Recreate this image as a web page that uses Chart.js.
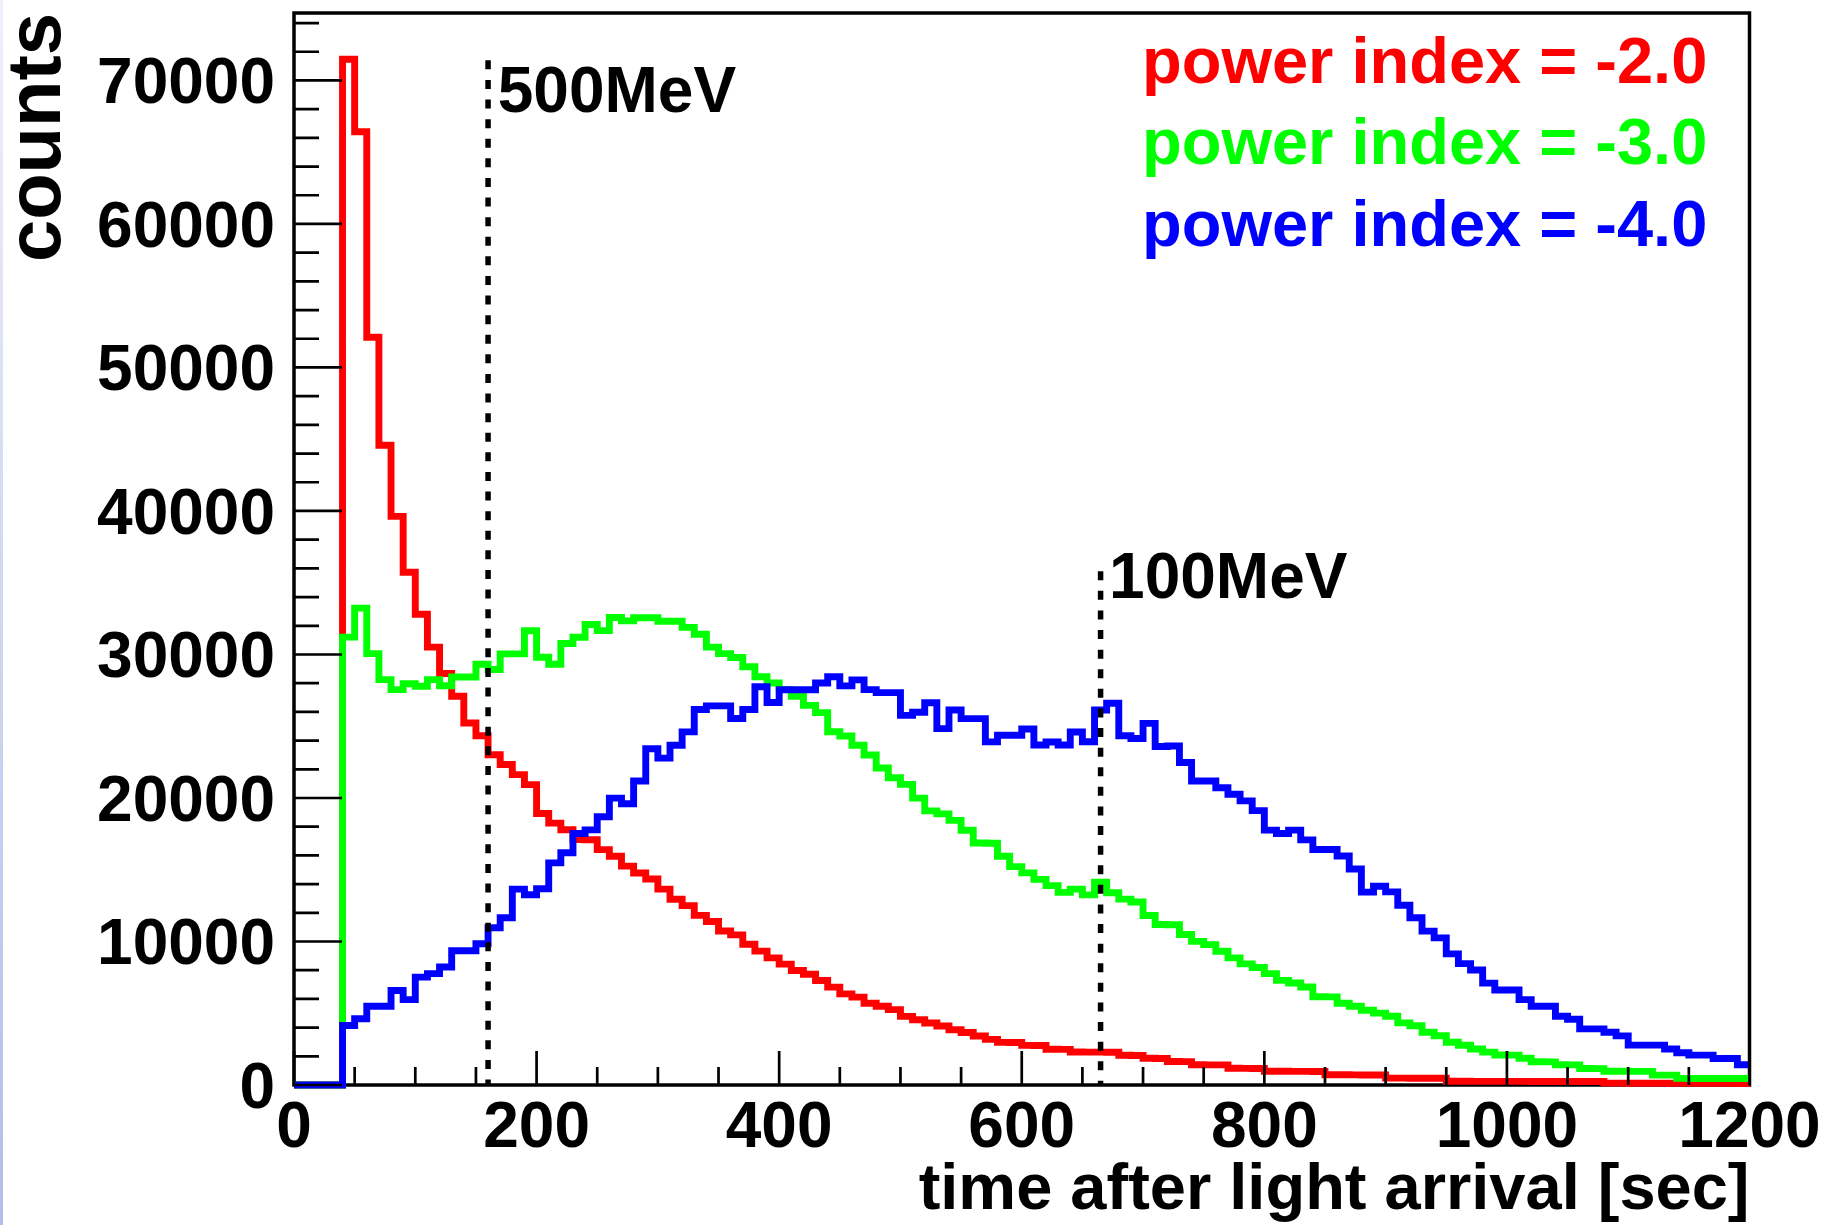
<!DOCTYPE html>
<html>
<head>
<meta charset="utf-8">
<script src="https://cdn.jsdelivr.net/npm/chart.js@4/dist/chart.umd.min.js"></script>
<style>
  html, body { margin: 0; padding: 0; background: #fff; overflow: hidden; }
  #wrap { position: relative; width: 1826px; height: 1225px; }
  #edge { position: absolute; left: 0; top: 0; width: 3px; height: 1225px;
          background: linear-gradient(#eef0fa, #b4bde8); }
  canvas { position: absolute; left: 0; top: 0; }
</style>
</head>
<body>
<div id="wrap"><div id="edge"></div><canvas id="chart" width="1826" height="1225"></canvas></div>
<script>
// ---- histogram binning (seconds after light arrival) ----
const BIN_WIDTH = 10;
const N_BINS = 120;
const timeBinEdges = Array.from({ length: N_BINS + 1 }, (_, i) => i * BIN_WIDTH);

// ---- series ----
const seriesLabels = ['power index = -2.0', 'power index = -3.0', 'power index = -4.0'];

const countsIndex2 = [
  0, 0, 0, 0, 71480, 66430, 52110, 44580, 39620, 35730,
  32800, 30510, 28670, 27090, 25230, 24340, 23010, 22330, 21630, 20930,
  18920, 18250, 17790, 17100, 17090, 16400, 15940, 15250, 14770, 14350,
  13650, 12940, 12500, 11820, 11390, 10730, 10460, 9810, 9330, 8860,
  8420, 7980, 7720, 7280, 6820, 6350, 6120, 5700, 5490, 5250,
  4780, 4550, 4320, 4110, 3850, 3660, 3410, 3180, 2970, 2960,
  2760, 2750, 2490, 2480, 2300, 2290, 2290, 2280, 2070, 2060,
  1860, 1850, 1640, 1630, 1410, 1400, 1400, 1170, 1160, 1150,
  960, 955, 950, 950, 945, 710, 710, 705, 700, 700,
  480, 477, 475, 470, 470, 260, 258, 256, 255, 254,
  252, 250, 248, 246, 245, 244, 242, 240, 130, 128,
  126, 124, 122, 120, 118, 116, 114, 112, 110, 108
];

const countsIndex3 = [
  0, 0, 0, 0, 31210, 33230, 30060, 28250, 27550, 27960,
  27790, 28250, 27820, 28430, 28430, 29320, 28950, 30040, 30040, 31650,
  29810, 29320, 30770, 31200, 32090, 31660, 32580, 32340, 32560, 32560,
  32320, 32320, 31890, 31410, 30510, 30060, 29790, 29140, 28450, 28010,
  27550, 27080, 26450, 25950, 24620, 24320, 23670, 23000, 22090, 21410,
  20950, 19990, 19100, 18890, 18440, 17750, 16860, 16850, 15940, 15220,
  14780, 14330, 13890, 13420, 13650, 13250, 14140, 13400, 12950, 12750,
  11810, 11180, 11170, 10490, 10010, 9780, 9320, 8860, 8440, 8190,
  7760, 7290, 7110, 6830, 6150, 6140, 5700, 5490, 5210, 5010,
  4790, 4330, 4130, 3680, 3430, 2980, 2770, 2510, 2290, 2090,
  2080, 1860, 1620, 1610, 1410, 1400, 1150, 1140, 960, 955,
  950, 950, 690, 685, 460, 457, 455, 452, 450, 448
];

const countsIndex4 = [
  0, 0, 0, 0, 4150, 4620, 5490, 5490, 6590, 5950,
  7520, 7760, 8220, 9350, 9350, 9840, 10960, 11650, 13650, 13260,
  13680, 15480, 16180, 17530, 17780, 18690, 19990, 19600, 21180, 23430,
  22780, 23670, 24610, 26170, 26420, 26420, 25540, 26170, 27750, 26650,
  27540, 27540, 27540, 28010, 28450, 27810, 28230, 27550, 27340, 27340,
  25760, 25970, 26640, 24830, 26130, 25530, 25530, 23910, 24370, 24370,
  24810, 23690, 23900, 23690, 24600, 23920, 26130, 26600, 24340, 24150,
  25200, 23590, 23620, 22470, 21180, 21180, 20710, 20260, 19800, 19120,
  17760, 17530, 17760, 17080, 16410, 16410, 15960, 15050, 13440, 13850,
  13460, 12530, 11650, 10720, 10250, 9140, 8460, 8010, 7100, 6620,
  6620, 5950, 5490, 5490, 4790, 4580, 3910, 3910, 3680, 3420,
  2780, 2780, 2780, 2510, 2250, 2080, 2080, 1850, 1850, 1410
];

const seriesCounts = [countsIndex2, countsIndex3, countsIndex4];

// ---- energy markers ----
const markerLabels = ['500MeV', '100MeV'];
const markerTimes = [160, 665];
const markerTops = [71400, 35800];

// ---- axis ticks ----
const xMajorTicks = [0, 200, 400, 600, 800, 1000, 1200];
const yMajorTicks = [0, 10000, 20000, 30000, 40000, 50000, 60000, 70000];
const X_MINOR_STEP = 50;
const Y_MINOR_STEP = 2000;
const Y_MAX = 74700;

// ---- styling ----
const FONT = "'Liberation Sans', Arial, Helvetica, sans-serif";
const seriesColors = ['#ff0000', '#00ff00', '#0000ff'];
const markerLabelPlacement = [{ x: 168, y: 67820 }, { x: 672, y: 33910 }];

Chart.defaults.font.family = FONT;
Chart.defaults.color = '#000';

function histogramPoints(counts) {
  const pts = counts.map((c, i) => ({ x: timeBinEdges[i], y: c }));
  pts.push({ x: timeBinEdges[counts.length], y: counts[counts.length - 1] });
  return pts;
}

const histDatasets = seriesLabels.map((label, k) => ({
  label,
  data: histogramPoints(seriesCounts[k]),
  borderColor: seriesColors[k],
  borderWidth: 6.9,
  stepped: 'before',
  pointRadius: 0,
  fill: false,
  clip: false,
  borderJoinStyle: 'miter',
  borderCapStyle: 'butt',
  order: seriesLabels.length - k
}));

const markerDatasets = markerTimes.map((t, k) => ({
  label: markerLabels[k],
  data: [{ x: t, y: markerTops[k] }, { x: t, y: 0 }],
  borderColor: '#000',
  borderWidth: 5.5,
  borderDash: [9, 10.6],
  borderCapStyle: 'butt',
  pointRadius: 0,
  fill: false,
  clip: false,
  order: -1
}));

const decor = {
  id: 'decor',
  beforeDatasetsDraw(chart) {
    const { ctx, chartArea: a } = chart;
    ctx.save();
    ctx.strokeStyle = '#000';
    ctx.lineWidth = 3.5;
    ctx.strokeRect(a.left, a.top, a.right - a.left, a.bottom - a.top);
    ctx.restore();
  },
  afterDatasetsDraw(chart) {
    const { ctx, chartArea: a, scales: { x, y } } = chart;
    ctx.save();
    ctx.strokeStyle = '#000';
    ctx.lineWidth = 2.7;
    ctx.beginPath();
    for (let v = x.min; v <= x.max + 1e-6; v += X_MINOR_STEP) {
      const px = x.getPixelForValue(v);
      const len = xMajorTicks.includes(v) ? 34 : 18;
      ctx.moveTo(px, a.bottom);
      ctx.lineTo(px, a.bottom - len);
    }
    for (let v = y.min; v <= y.max; v += Y_MINOR_STEP) {
      const py = y.getPixelForValue(v);
      const len = yMajorTicks.includes(v) ? 48 : 25;
      ctx.moveTo(a.left, py);
      ctx.lineTo(a.left + len, py);
    }
    ctx.stroke();
    ctx.restore();
  },
  afterDraw(chart) {
    const { ctx, scales: { x, y } } = chart;
    ctx.save();
    ctx.textAlign = 'left';
    ctx.textBaseline = 'alphabetic';
    // energy marker captions
    ctx.font = 'bold 64px ' + FONT;
    ctx.fillStyle = '#000';
    markerLabels.forEach((txt, k) => {
      const p = markerLabelPlacement[k];
      ctx.fillText(txt, x.getPixelForValue(p.x), y.getPixelForValue(p.y));
    });
    // series key, top right
    ctx.font = 'bold 65px ' + FONT;
    seriesLabels.forEach((txt, k) => {
      ctx.fillStyle = seriesColors[k];
      ctx.fillText(txt, 1142, 82.7 + 81.7 * k);
    });
    ctx.restore();
  }
};

new Chart(document.getElementById('chart'), {
  type: 'line',
  data: { datasets: [...markerDatasets, ...histDatasets] },
  options: {
    responsive: false,
    devicePixelRatio: 1,
    animation: false,
    events: [],
    layout: { padding: { top: 13, right: 76.5, bottom: 0, left: 0 } },
    plugins: { legend: { display: false }, tooltip: { enabled: false } },
    scales: {
      x: {
        type: 'linear',
        min: 0,
        max: 1200,
        grid: { display: false, drawTicks: false },
        border: { display: false },
        ticks: {
          font: { size: 64, weight: 'bold' },
          color: '#000',
          padding: 6,
          maxRotation: 0,
          minRotation: 0,
          autoSkip: false,
          callback: v => String(v)
        },
        afterBuildTicks: s => { s.ticks = xMajorTicks.map(v => ({ value: v })); },
        afterFit: s => { s.height = 140; s.paddingLeft = 0; s.paddingRight = 0; },
        title: {
          display: true,
          text: 'time after light arrival [sec]',
          align: 'end',
          color: '#000',
          font: { size: 65, weight: 'bold', lineHeight: 1 },
          padding: { top: 0, bottom: 1 }
        }
      },
      y: {
        type: 'linear',
        min: 0,
        max: Y_MAX,
        grid: { display: false, drawTicks: false },
        border: { display: false },
        ticks: {
          font: { size: 64, weight: 'bold' },
          color: '#000',
          padding: 19,
          labelOffset: 5,
          includeBounds: false,
          callback: v => String(v)
        },
        afterBuildTicks: s => { s.ticks = yMajorTicks.map(v => ({ value: v })); },
        afterFit: s => { s.width = 294; s.paddingTop = 0; s.paddingBottom = 0; },
        title: {
          display: true,
          text: 'counts',
          align: 'end',
          color: '#000',
          font: { size: 76, weight: 'bold', lineHeight: 1 },
          padding: { top: 0.7, bottom: 0 }
        }
      }
    }
  },
  plugins: [decor]
});
</script>
</body>
</html>
